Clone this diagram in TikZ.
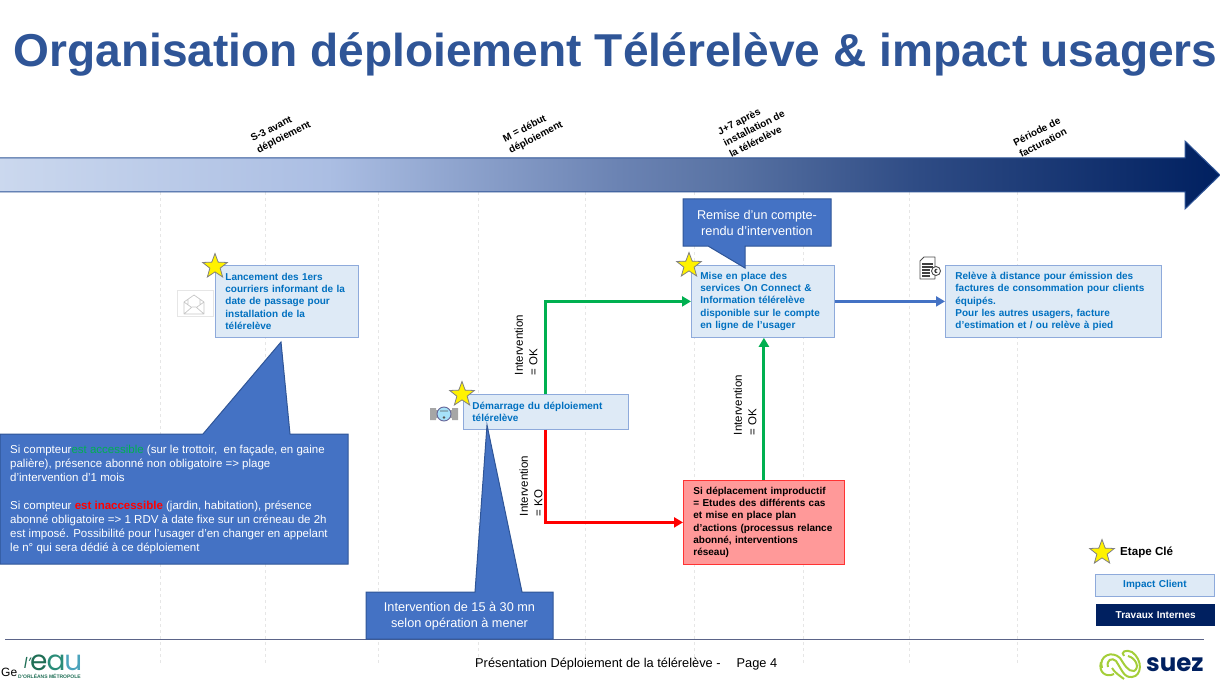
\documentclass[tikz,border=0pt]{standalone}
\usepackage{fontspec}
\setmainfont{Liberation Sans}
\newfontfamily\logofont{Poppins}
\usetikzlibrary{arrows.meta,shapes.geometric}

\definecolor{titleblue}{HTML}{2F5597}
\definecolor{tlA}{HTML}{CBD8EE}
\definecolor{tlB}{HTML}{ABBEE3}
\definecolor{tlC}{HTML}{6B83B3}
\definecolor{tlM}{HTML}{5872A3}
\definecolor{tlN}{HTML}{2F4C85}
\definecolor{tlD}{HTML}{002060}
\definecolor{clientfill}{HTML}{DEEAF6}
\definecolor{clientline}{HTML}{8EAADB}
\definecolor{clienttext}{HTML}{0070C0}
\definecolor{bubble}{HTML}{4472C4}
\definecolor{okgreen}{HTML}{00B050}
\definecolor{redfill}{HTML}{FF9999}
\definecolor{gridgray}{HTML}{E6E6E6}
\definecolor{footline}{HTML}{5B6488}
\definecolor{lime}{HTML}{A4CE39}

\pgfdeclarehorizontalshading{timeline}{100bp}{color(0bp)=(tlA); color(25bp)=(tlA);
  color(38.5bp)=(tlB); color(50.4bp)=(tlC); color(55bp)=(tlM); color(62.5bp)=(tlN);
  color(75bp)=(tlD); color(100bp)=(tlD)}

\tikzset{
  clientbox/.style={draw=clientline,fill=clientfill,line width=.8,anchor=north west,
    align=left,inner xsep=10,inner ysep=0,text=clienttext,
    font=\fontsize{10}{12.3}\selectfont\bfseries},
  redbox/.style={clientbox,draw=red!80,fill=redfill,text=black},
  bubbletext/.style={text=white,align=center,inner sep=0},
  keystar/.style={star,star points=5,star point ratio=2.4,draw=gray,fill=yellow,
    line width=.8,minimum size=26,inner sep=0},
  flow/.style={line width=3,-{Triangle[length=9,width=10]}},
  timelabel/.style={rotate=27,align=left,inner sep=0,
    font=\fontsize{10}{12.8}\selectfont\bfseries},
  branchlabel/.style={rotate=90,align=left,inner sep=0,
    font=\fontsize{11.5}{14.5}\selectfont},
}

\begin{document}
\begin{tikzpicture}[x=1pt,y=-1pt]
\useasboundingbox (0,0) rectangle (1220,687);

% grid
\foreach \gx in {160,265,378,478,585,694,803,909,1017}
  \draw[gridgray,dashed,line width=.7] (\gx,192) -- (\gx,665);

\node[text=titleblue,inner sep=0,font=\fontsize{46.1}{50}\selectfont\bfseries] (title) at (615.5,54.5)
  {Organisation déploiement Télérelève \& impact usagers};

% time line
\draw[titleblue,line width=1,shading=timeline] (-2,158) -- (1185,158) -- (1185,141) -- (1220,175)
  -- (1185,209) -- (1185,192) -- (-2,192) -- cycle;

\node[timelabel] (tsthree) at (281,132) {S-3 avant\\déploiement};
\node[timelabel] (tstart) at (533,132) {M = début\\déploiement};
\node[timelabel] (tseven) at (754,128) {J+7 après\\installation de\\la télérelève};
\node[timelabel] (tbill) at (1040,137) {Période de\\facturation};

% boxes
\node[clientbox,text width=123,minimum height=72] (courriers) at (215,265)
  {Lancement des 1ers\\courriers informant de la\\date de passage pour\\installation de la\\télérelève};
\node[clientbox,inner xsep=9,text width=147,minimum height=35] (demarrage) at (463,394)
  {Démarrage du déploiement\\télérelève};
\node[clientbox,inner xsep=9,text width=125,minimum height=72] (miseplace) at (691,265)
  {Mise en place des\\services On Connect \&\\Information télérelève\\disponible sur le compte\\en ligne de l’usager};
\node[clientbox,text width=196,minimum height=72] (releve) at (945,265)
  {Relève à distance pour émission des\\factures de consommation pour clients\\équipés.\\Pour les autres usagers, facture\\d’estimation et / ou relève à pied};
\node[redbox,text width=141,minimum height=84] (improductif) at (683,480)
  {Si déplacement improductif\\= Etudes des différents cas\\et mise en place plan\\d’actions (processus relance\\abonné, interventions\\réseau)};

% connectors
\draw[flow,okgreen] (demarrage.north) |- (miseplace.west);
\draw[flow,red] (demarrage.south) |- (improductif.west);
\draw[flow,okgreen] (improductif.north) -- (improductif.north |- miseplace.south);
\draw[flow,bubble] (miseplace) -- (releve);

\node[branchlabel] (labelok) at (526,345) {Intervention\\= OK};
\node[branchlabel] (labelko) at (531,486) {Intervention\\= KO};
\node[branchlabel] (labeloktwo) at (745,405) {Intervention\\= OK};

% footer
\draw[footline,line width=1] (5,639) -- (1204,639);

% bubbles
\draw[titleblue,fill=bubble,line width=1] (0,434) -- (203,434) -- (281,342) -- (290,434) -- (348,434)
  -- (348,564) -- (0,564) -- cycle;
\node[bubbletext,align=left,anchor=north west,font=\fontsize{11.5}{14}\selectfont] (accesstext) at (10,445)
  {Si compteur\textcolor{okgreen}{ est accessible }(sur le trottoir,\ \ en façade, en gaine\\
   palière), présence abonné non obligatoire => plage\\
   d’intervention d’1 mois\\[14pt]
   Si compteur\textcolor{red}{\bfseries\ est inaccessible }(jardin, habitation),\ présence\\
   abonné obligatoire => 1 RDV à date fixe sur un créneau de 2h\\
   est imposé. Possibilité pour l’usager d’en changer en appelant\\
   le n° qui sera dédié à ce déploiement};

\draw[titleblue,fill=bubble,line width=1] (366,592) -- (475,592) -- (487,425) -- (522,592) -- (553,592)
  -- (553,639) -- (366,639) -- cycle;
\node[bubbletext,font=\fontsize{12.7}{16}\selectfont] (dureetext) at (459.5,616.5)
  {Intervention de 15 à 30 mn\\selon opération à mener};

\draw[titleblue,fill=bubble,line width=1] (683,199) -- (831,199) -- (831,246) -- (745,246) -- (745,268)
  -- (708,246) -- (683,246) -- cycle;
\node[bubbletext,font=\fontsize{12.7}{16}\selectfont] (comptetext) at (757,223)
  {Remise d’un compte-\\rendu d’intervention};

% stars
\node[keystar] (starone) at (215,266.5) {};
\node[keystar] (startwo) at (462,394.5) {};
\node[keystar] (starthree) at (689,265.5) {};
\node[keystar] (starkey) at (1102,552.5) {};

% icons
\draw[gridgray,line width=.6] (177,290) rectangle (213,316);
\draw[gray!45,line width=.7,line join=round] (184,302) -- (194,295) -- (204,302) -- (204,314) -- (184,314) -- cycle
  (184,314) -- (192,307) -- (196,307) -- (204,314) (184,302) -- (191,307) (204,302) -- (197,307)
  (188,299) -- (188,304) (200,299) -- (200,304);
\fill[gray!70] (430,408) rectangle (436,420) (452,408) rectangle (458,420) (434,410) rectangle (454,418);
\draw[gray!80!blue,fill=cyan!35,line width=.9] (444,414) circle (7);
\draw[gray!70!black,line width=.7] (440,411) -- (448,411) (444,417.5) circle (.8);
\draw[black!70,fill=white,line width=.9,line join=round] (920,261) -- (924,257) -- (935,257) -- (935,279) -- (920,279) -- cycle;
\draw[black!75,line width=1.1] (922,264) -- (933,264) (922,267) -- (933,267) (922,270) -- (930,270) (922,273) -- (930,273) (922,276) -- (930,276);
\draw[black!70,fill=white,line width=.9] (936,271) circle (4.5);
\node[inner sep=0,font=\fontsize{6}{6}\selectfont\bfseries] (euro) at (936,271) {€};

% legend
\node[inner sep=0,anchor=west,font=\fontsize{11.6}{13}\selectfont\bfseries] (keylabel) at (1120,552.5) {Etape Clé};
\node[clientbox,anchor=north west,align=center,inner xsep=0,text width=119,minimum height=22,font=\fontsize{10}{11}\selectfont\bfseries] (keyclient) at (1095,574) {Impact Client};
\node[fill=tlD,anchor=north west,align=center,inner xsep=0,inner ysep=0,text=white,text width=119,minimum height=22,font=\fontsize{10}{11}\selectfont\bfseries] (keyinternal) at (1096,604) {Travaux Internes};

% bottom line
\node[inner sep=0,anchor=west,font=\fontsize{12.8}{14}\selectfont] (footertext) at (475,664)
  {Présentation Déploiement de la télérelève -\hspace{16pt}Page 4};
\node[inner sep=0,anchor=west,font=\fontsize{12}{13}\selectfont] (footerge) at (1,672) {Ge};

% logos
\node[inner sep=0,anchor=base west,font=\logofont\fontsize{28}{28}\selectfont] (logoeau) at (30,670)
  {\textcolor[HTML]{1F6E55}{e}\kern-1pt\textcolor[HTML]{2A8C78}{a}\kern-1pt\textcolor[HTML]{4BA3BC}{u}};
\node[inner sep=0,anchor=base east,text={rgb,255:red,31;green,110;blue,85},font=\logofont\itshape\fontsize{15}{15}\selectfont] (logol) at (31,668) {l’};
\node[inner sep=0,anchor=west,text={rgb,255:red,31;green,110;blue,85},font=\fontsize{5}{5}\selectfont\bfseries] (logometro) at (18,676.5) {D’ORLÉANS MÉTROPOLE};
\draw[lime,line width=2] (1102,668) .. controls (1098,656) and (1112,650) .. (1120,658)
  .. controls (1124,664) and (1128,672) .. (1134,671) .. controls (1140,668) and (1136,658) .. (1128,656);
\draw[lime,line width=2] (1108,667) .. controls (1106,660) and (1112,657) .. (1116,661)
  .. controls (1122,670) and (1124,678) .. (1132,677) .. controls (1142,676) and (1143,660) .. (1132,652) .. controls (1126,649) and (1120,652) .. (1124,656);
\draw[lime,line width=2] (1114,674) .. controls (1106,678) and (1098,672) .. (1101,662)
  (1112,668) .. controls (1114,672) and (1120,676) .. (1124,679);
\node[inner sep=0,anchor=west,text=tlD,font=\logofont\bfseries\fontsize{24.5}{25}\selectfont] (logosuez) at (1146,664.5) {suez};
\end{tikzpicture}
\end{document}
